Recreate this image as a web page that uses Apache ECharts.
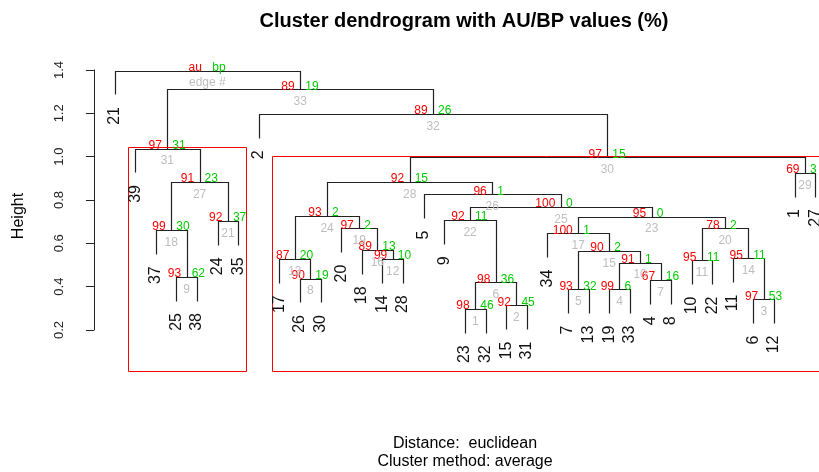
<!DOCTYPE html>
<html><head><meta charset="utf-8">
<script src="https://cdn.jsdelivr.net/npm/echarts@6/dist/echarts.min.js"></script>
<style>html,body{margin:0;padding:0;background:#fff}#c{width:819px;height:472px}</style>
</head><body><div id="c"></div>
<script>
// ---- data ----
const leafOrder = [21,39,37,25,38,24,35,2,17,26,30,20,18,14,28,5,9,23,32,15,31,34,7,13,19,33,4,8,10,22,11,6,12,1,27];
// hclust-style merges (edge # = index+1); negative = leaf label, positive = edge #
const mergeLeft  = [-23,-15,-6,-19,-7,1,-4,-26,-25,4,-10,-14,-17,-11,5,-18,-34,-37,-20,11,-24,-9,17,13,22,-5,18,24,-1,28,-39,-2,31,-21];
const mergeRight = [-32,-31,-12,-33,-13,2,-8,-30,-38,7,-22,-28,8,3,10,12,15,9,16,14,-35,6,20,19,23,25,21,26,-27,29,27,30,32,33];
const mergeHeight = [0.297,0.314,0.342,0.388,0.388,0.420,0.431,0.437,0.446,0.511,0.522,0.528,0.528,0.531,0.565,0.569,0.646,0.662,0.669,0.669,0.703,0.708,0.723,0.726,0.769,0.826,0.883,0.883,0.926,0.997,1.037,1.197,1.311,1.397];
const auValues = [98,92,97,99,93,98,67,90,93,91,95,99,87,95,90,89,100,99,97,78,92,92,95,93,100,96,91,92,69,97,97,89,89];
const bpValues = [46,45,53,6,32,36,16,19,62,1,11,10,20,11,2,13,1,30,2,2,37,11,0,2,0,1,23,15,3,15,31,26,19];
const legendLabels = ['au','bp','edge #'];
const yTicks = [0.2,0.4,0.6,0.8,1.0,1.2,1.4];
const titleText = 'Cluster dendrogram with AU/BP values (%)';
const subText1 = 'Distance:  euclidean';
const subText2 = 'Cluster method: average';
const yName = 'Height';
const alphaAU = 95;

// ---- derived ----
const FONT = "'Liberation Sans', Arial, Helvetica, sans-serif";
const nEdge = mergeHeight.length;
const leafPos = {}; leafOrder.forEach((l,i)=>{ leafPos[l] = i+1; });
const edgeX = [], edgeMembers = [], leafParentH = {};
function childX(c){ return c < 0 ? leafPos[-c] : edgeX[c-1]; }
for (let e = 0; e < nEdge; e++) {
  const l = mergeLeft[e], r = mergeRight[e];
  edgeX[e] = (childX(l) + childX(r)) / 2;
  const mem = [];
  [l, r].forEach(c => {
    if (c < 0) { mem.push(leafPos[-c]); leafParentH[-c] = mergeHeight[e]; }
    else mem.push(...edgeMembers[c-1]);
  });
  edgeMembers[e] = mem;
}
const hang = 0.1 * (Math.max(...mergeHeight) - Math.min(...mergeHeight));
function childBottom(c, h){ return c < 0 ? h - hang : mergeHeight[c-1]; }
const treeData = mergeHeight.map((h, e) => [childX(mergeLeft[e]), childBottom(mergeLeft[e], h), childX(mergeRight[e]), childBottom(mergeRight[e], h), h]);
const leafData = leafOrder.map(l => [leafPos[l], leafParentH[l] - hang]);
const nodeData = mergeHeight.map((h, e) => [edgeX[e], h]);

// pvrect-like boxes
const mx = 0.36, my = 0.007, yBase = 0.005;
const covered = new Set(); const rectData = [];
for (let e = nEdge - 2; e >= 0; e--) {
  if (auValues[e] >= alphaAU) {
    const mem = edgeMembers[e];
    if (!mem.some(m => covered.has(m))) {
      rectData.push([Math.min(...mem) - mx, yBase + my, Math.max(...mem) + mx, mergeHeight[e] + my]);
    }
    mem.forEach(m => covered.add(m));
  }
}

const cr = p => [Math.round(p[0]) + 0.5, Math.round(p[1]) + 0.5];

const chart = echarts.init(document.getElementById('c'), null, {renderer: 'canvas'});
chart.setOption({
  animation: false,
  backgroundColor: '#fff',
  grid: {left: 86.5, right: 0, top: 70, bottom: 142, containLabel: false},
  xAxis: {type: 'value', min: -0.36, max: 35.18, show: false},
  yAxis: {
    type: 'value', min: 0.2, max: 1.4, interval: 0.2,
    axisLine: {show: true, lineStyle: {color: '#222', width: 1}},
    axisTick: {show: true, length: 8, lineStyle: {color: '#222'}},
    splitLine: {show: false},
    axisLabel: {rotate: 90, margin: 21, fontSize: 13, fontFamily: FONT, color: '#222',
      formatter: v => { const t = yTicks.find(k => Math.abs(k - v) < 1e-6); return t === undefined ? '' : t.toFixed(1); }}
  },
  graphic: [
    {type: 'text', x: 464, y: 21.5, style: {text: titleText, font: `bold 20px ${FONT}`, fill: '#000', align: 'center', verticalAlign: 'middle'}},
    {type: 'text', x: 465, y: 444, style: {text: subText1, font: `16px ${FONT}`, fill: '#000', align: 'center', verticalAlign: 'middle'}},
    {type: 'text', x: 465, y: 462, style: {text: subText2, font: `16px ${FONT}`, fill: '#000', align: 'center', verticalAlign: 'middle'}},
    {type: 'text', x: 19, y: 216, rotation: Math.PI / 2, style: {text: yName, font: `16px ${FONT}`, fill: '#000', align: 'center', verticalAlign: 'middle'}}
  ],
  series: [
    {
      type: 'custom', clip: false, data: treeData, silent: true,
      renderItem(params, api) {
        const pts = [
          api.coord([api.value(0), api.value(1)]),
          api.coord([api.value(0), api.value(4)]),
          api.coord([api.value(2), api.value(4)]),
          api.coord([api.value(2), api.value(3)])
        ].map(cr);
        return {type: 'polyline', shape: {points: pts}, style: {stroke: '#222', lineWidth: 1.2, fill: null}};
      }
    },
    {
      type: 'custom', clip: false, data: rectData, silent: true,
      renderItem(params, api) {
        const a = cr(api.coord([api.value(0), api.value(3)]));
        const b = cr(api.coord([api.value(2), api.value(1)]));
        return {type: 'rect', shape: {x: a[0], y: a[1], width: b[0] - a[0], height: b[1] - a[1]}, style: {stroke: '#ff0000', lineWidth: 1, fill: null}};
      }
    },
    {
      type: 'custom', clip: false, data: leafData, silent: true,
      renderItem(params, api) {
        const p = api.coord([api.value(0), api.value(1)]);
        return {type: 'text', x: p[0], y: p[1] + 12.5, rotation: Math.PI / 2,
          style: {text: String(leafOrder[params.dataIndex]), font: `16px ${FONT}`, fill: '#111', align: 'right', verticalAlign: 'middle'}};
      }
    },
    {
      type: 'custom', clip: false, data: nodeData, silent: true,
      renderItem(params, api) {
        const p = api.coord([api.value(0), api.value(1)]);
        const i = params.dataIndex;
        const root = i === nEdge - 1;
        const au = root ? legendLabels[0] : String(auValues[i]);
        const bp = root ? legendLabels[1] : String(bpValues[i]);
        const ed = root ? legendLabels[2] : String(i + 1);
        const f = `12px ${FONT}`;
        return {type: 'group', children: [
          {type: 'text', x: p[0] - 5.5, y: p[1] - 3, style: {text: au, font: f, fill: '#ff0000', align: 'right', verticalAlign: 'middle'}},
          {type: 'text', x: p[0] + 5, y: p[1] - 3, style: {text: bp, font: f, fill: '#00cd00', align: 'left', verticalAlign: 'middle'}},
          {type: 'text', x: p[0], y: p[1] + 12.5, style: {text: ed, font: f, fill: '#bebebe', align: 'center', verticalAlign: 'middle'}}
        ]};
      }
    }
  ]
});
</script></body></html>
